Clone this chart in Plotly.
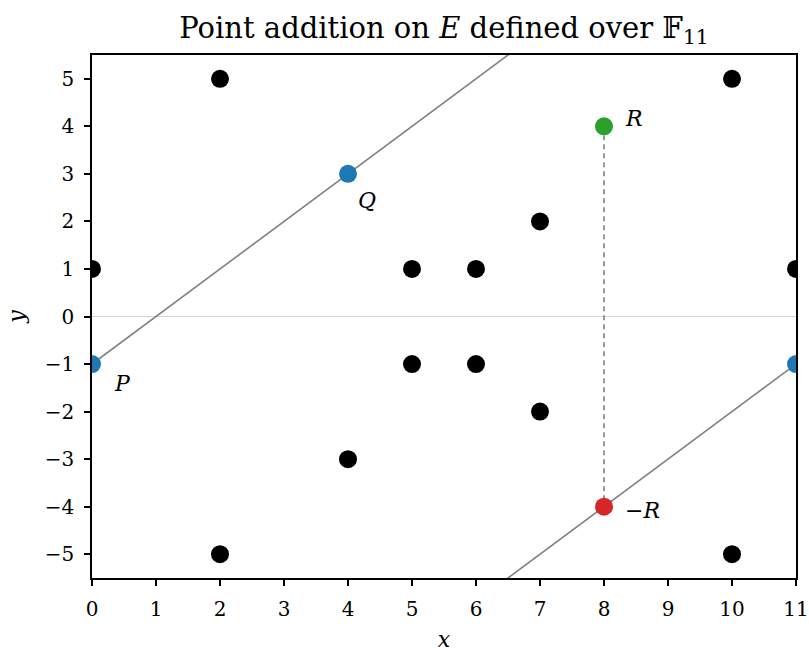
import plotly.graph_objects as go

# Curve points over F_11
black_x = [0, 2, 2, 4, 5, 5, 6, 6, 7, 7, 10, 10, 11]
black_y = [1, 5, -5, -3, 1, -1, 1, -1, 2, -2, 5, -5, 1]

P = (0, -1)
Q = (4, 3)
P_wrap = (11, -1)
R = (8, 4)
negR = (8, -4)
p_mod = 11

x_ticks = list(range(0, 12))
y_ticks = list(range(-5, 6))

FONT = "DejaVu Serif"

m = (Q[1] - P[1]) / (Q[0] - P[0])
line_x = [0, p_mod]
line1_y = [P[1] + m * (x - P[0]) for x in line_x]
line2_y = [y - p_mod for y in line1_y]

fig = go.Figure()

fig.add_trace(go.Scatter(x=[0, p_mod], y=[0, 0], mode="lines",
                         line=dict(color="#d3d3d3", width=1.2), hoverinfo="skip"))
fig.add_trace(go.Scatter(x=line_x, y=line1_y, mode="lines",
                         line=dict(color="#808080", width=1.6), hoverinfo="skip"))
fig.add_trace(go.Scatter(x=line_x, y=line2_y, mode="lines",
                         line=dict(color="#808080", width=1.6), hoverinfo="skip"))
fig.add_trace(go.Scatter(x=[R[0], negR[0]], y=[R[1], negR[1]], mode="lines",
                         line=dict(color="#808080", width=1.6, dash="5px,4px"), hoverinfo="skip"))

fig.add_trace(go.Scatter(x=black_x, y=black_y, mode="markers",
                         marker=dict(color="black", size=18)))
fig.add_trace(go.Scatter(x=[P[0], Q[0], P_wrap[0]], y=[P[1], Q[1], P_wrap[1]], mode="markers",
                         marker=dict(color="#1f77b4", size=18)))
fig.add_trace(go.Scatter(x=[R[0]], y=[R[1]], mode="markers",
                         marker=dict(color="#2ca02c", size=18)))
fig.add_trace(go.Scatter(x=[negR[0]], y=[negR[1]], mode="markers",
                         marker=dict(color="#d62728", size=18)))

labels = [("<i>P</i>", P, 0.47, -0.4), ("<i>Q</i>", Q, 0.3, -0.55),
          ("<i>R</i>", R, 0.47, 0.16), ("−<i>R</i>", negR, 0.6, -0.08)]
for txt, pt, dx, dy in labels:
    fig.add_annotation(x=pt[0] + dx, y=pt[1] + dy, text=txt, showarrow=False,
                       font=dict(family=FONT, size=22, color="black"))

fig.update_layout(
    width=809, height=653,
    margin=dict(l=92, r=13, t=55, b=75, autoexpand=False),
    paper_bgcolor="white", plot_bgcolor="white",
    showlegend=False, hovermode=False,
    font=dict(family=FONT, size=20, color="black"),
    title=dict(text="Point addition on <i>E</i> defined over 𝔽<sub>11</sub>",
               xref="paper", x=0.5, xanchor="center", y=0.957, yanchor="middle",
               font=dict(family=FONT, size=29, color="black")),
)
axis_common = dict(showgrid=False, zeroline=False, showline=True, linecolor="black",
                   linewidth=1.5, mirror=True, ticks="outside", ticklen=6, tickwidth=1.5,
                   tickcolor="black", automargin=False, ticklabelstandoff=6,
                   tickfont=dict(family=FONT, size=20, color="black"))
fig.update_xaxes(range=[0, 11], tickvals=x_ticks, ticktext=[str(v) for v in x_ticks],
                 title=dict(text="<i>x</i>", font=dict(family=FONT, size=22), standoff=12),
                 **axis_common)
fig.update_yaxes(range=[-5.5, 5.5], tickvals=y_ticks,
                 ticktext=[str(v).replace("-", "−") for v in y_ticks],
                 title=dict(text="<i>y</i>", font=dict(family=FONT, size=22), standoff=14),
                 **axis_common)

fig.write_html("out.html", config={"displayModeBar": False},
               post_script="document.body.style.margin='0';")
